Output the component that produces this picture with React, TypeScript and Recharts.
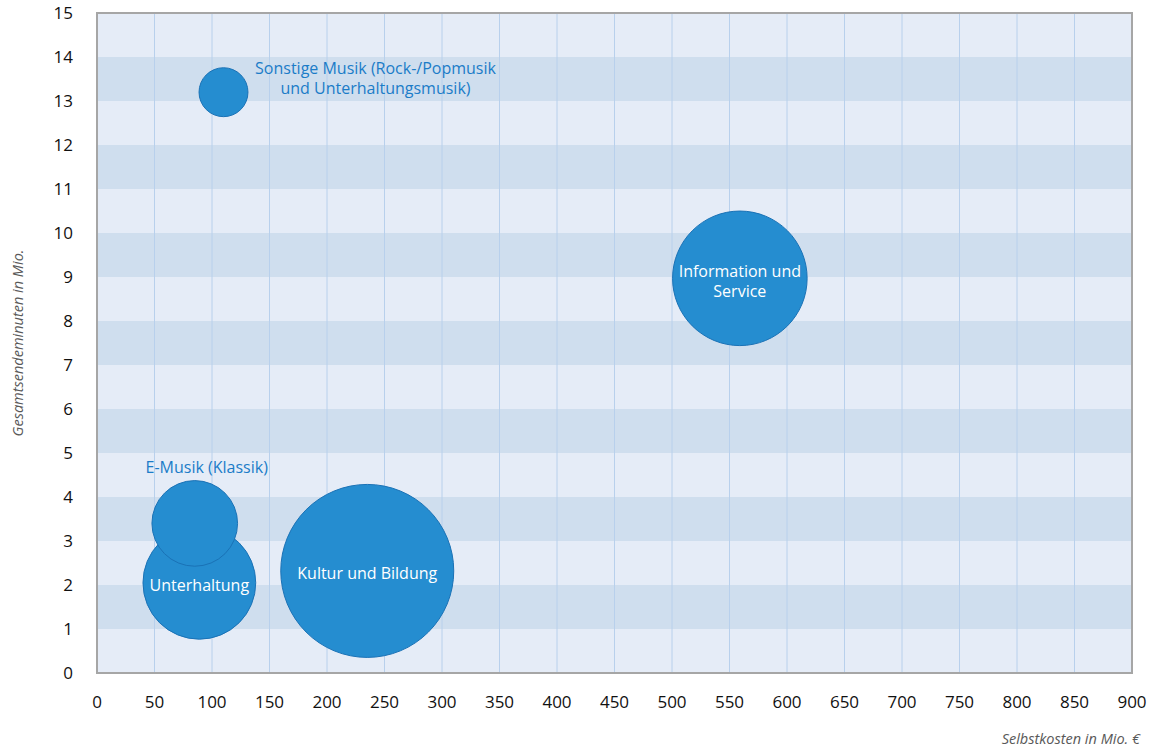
import React from 'react';
import {
    ScatterChart,
    Scatter,
    XAxis,
    YAxis,
    ZAxis,
    CartesianGrid,
    ReferenceArea,
    Label
} from 'recharts';

// Programmsparten: Kosten, Sendeminuten und Blasengröße
const programmes = [
    'Sonstige Musik',
    'Unterhaltung',
    'E-Musik',
    'Kultur und Bildung',
    'Information und Service'
];
const labelLines = [
    ['Sonstige Musik (Rock-/Popmusik', 'und Unterhaltungsmusik)'],
    ['Unterhaltung'],
    ['E-Musik (Klassik)'],
    ['Kultur und Bildung'],
    ['Information und', 'Service']
];
const selbstkosten = [110, 89, 85, 235, 559];
const sendeminuten = [13.2, 2.05, 3.4, 2.32, 8.97];
const volumen = [8, 42.5, 24.5, 100, 60.5];

const xTicks = [0, 50, 100, 150, 200, 250, 300, 350, 400, 450, 500, 550, 600, 650, 700, 750, 800, 850, 900];
const yTicks = [0, 1, 2, 3, 4, 5, 6, 7, 8, 9, 10, 11, 12, 13, 14, 15];

const data = programmes.map((name, i) => ({
    name,
    lines: labelLines[i],
    x: selbstkosten[i],
    y: sendeminuten[i],
    z: volumen[i]
}));

const FONT = '"Open Sans", "Noto Sans", sans-serif';
const BUBBLE_FILL = '#258dd0';
const BUBBLE_STROKE = '#1a72b6';
const LABEL_BLUE = '#1b7cc8';

// labels that sit outside their bubble, offset from the centre
const OUTSIDE_LABELS: Record<string, { dx: number; dy: number }> = {
    'Sonstige Musik': { dx: 152, dy: -18 },
    'E-Musik': { dx: 12, dy: -50 }
};

const BubbleShape = (props: any) => {
    const { cx, cy, width, payload } = props;
    const r = width / 2;
    const outside = OUTSIDE_LABELS[payload.name];
    const lines: string[] = payload.lines;
    const lineHeight = 20;

    let tx = cx;
    let ty = cy + 8;
    if (outside) {
        tx = cx + outside.dx;
        ty = cy + outside.dy;
    } else if (lines.length > 1) {
        ty = cy - 1;
    }

    return (
        <g>
            <circle cx={cx} cy={cy} r={r} fill={BUBBLE_FILL} stroke={BUBBLE_STROKE} strokeWidth={1} />
            <text
                x={tx}
                y={ty}
                textAnchor="middle"
                fontFamily={FONT}
                fontSize={16}
                fill={outside ? LABEL_BLUE : '#ffffff'}
            >
                {lines.map((line, i) => (
                    <tspan key={i} x={tx} dy={i === 0 ? 0 : lineHeight}>
                        {line}
                    </tspan>
                ))}
            </text>
        </g>
    );
};

const tickStyle = { fontFamily: FONT, fontSize: 17, fill: '#111111' };
const titleStyle = { fontFamily: FONT, fontSize: 14.5, fontStyle: 'italic', fill: '#595959' };

export default function App() {
    return (
        <div style={{ position: 'absolute', left: 0, top: 0, width: 1150, height: 751, background: '#ffffff' }}>
            <ScatterChart width={1150} height={751} margin={{ top: 13, right: 18, bottom: 0, left: 0 }}>
                <CartesianGrid
                    horizontal
                    vertical={false}
                    stroke="transparent"
                    horizontalFill={['#e5ecf7', '#cfdeee']}
                    fillOpacity={1}
                />
                <CartesianGrid horizontal={false} vertical stroke="#b8d0ec" strokeWidth={1} />
                <XAxis
                    type="number"
                    dataKey="x"
                    domain={[0, 900]}
                    ticks={xTicks}
                    interval={0}
                    axisLine={false}
                    tickLine={false}
                    tickSize={0}
                    tickMargin={23}
                    height={78}
                    tick={tickStyle}
                >
                    <Label value="Selbstkosten in Mio. €" position="insideBottomRight" dx={13} dy={-2} style={titleStyle} />
                </XAxis>
                <YAxis
                    type="number"
                    dataKey="y"
                    domain={[0, 15]}
                    ticks={yTicks}
                    interval={0}
                    axisLine={false}
                    tickLine={false}
                    tickSize={0}
                    tickMargin={24}
                    width={97}
                    tick={tickStyle}
                >
                    <Label value="Gesamtsendeminuten in Mio." position="center" angle={-90} dx={-31} dy={0} style={titleStyle} />
                </YAxis>
                <ZAxis type="number" dataKey="z" domain={[0, 100]} range={[0, 23506]} />
                <ReferenceArea x1={0} x2={900} y1={0} y2={15} fill="none" stroke="#a6a6a6" strokeWidth={2} />
                <Scatter data={data} shape={BubbleShape} isAnimationActive={false} />
            </ScatterChart>
        </div>
    );
}
